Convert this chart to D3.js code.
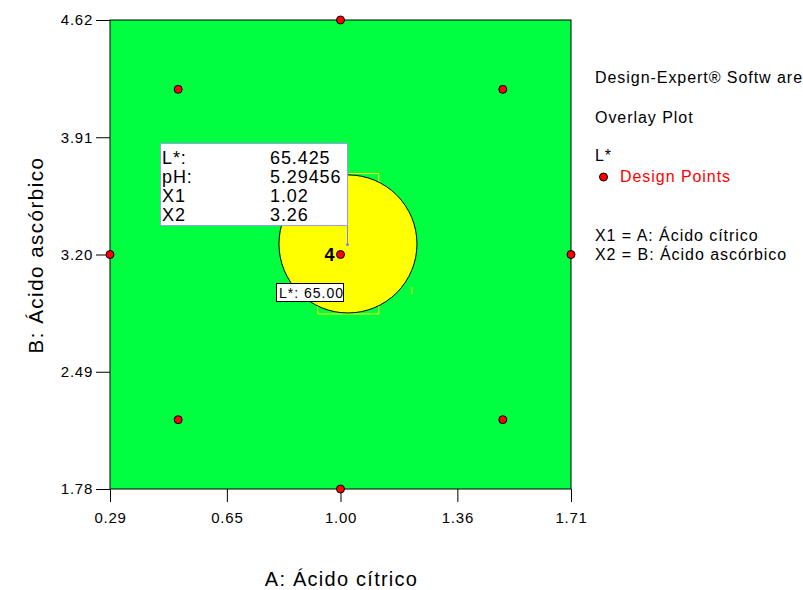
<!DOCTYPE html>
<html><head><meta charset="utf-8">
<script src="https://cdn.jsdelivr.net/npm/d3@7"></script>
<style>body{margin:0;background:#fff}svg{display:block;font-family:"Liberation Sans",Arial,sans-serif}</style>
</head><body><svg id="c" width="803" height="590"></svg>
<script>
const xTicks = [0.29, 0.65, 1.00, 1.36, 1.71];
const yTicks = [1.78, 2.49, 3.20, 3.91, 4.62];
const pointsX = [0.29, 1.71, 1.00, 1.00, 0.50, 1.50, 0.50, 1.50, 1.00];
const pointsY = [3.20, 3.20, 1.78, 4.62, 2.20, 2.20, 4.20, 4.20, 3.20];
const pointLabels = ["", "", "", "", "", "", "", "", "4"];
const regionCenter = [1.023, 3.264];
const regionRadius = [0.2125, 0.418];
const tipLabels = ["L*:", "pH:", "X1", "X2"];
const tipValues = ["65.425", "5.29456", "1.02", "3.26"];
const contourLabel = "L*: 65.00";
const legendLines = ["Design-Expert® Softw are", "Overlay Plot", "L*"];

const svg = d3.select("#c");
const x = d3.scaleLinear().domain([0.29, 1.71]).range([110, 571]);
const y = d3.scaleLinear().domain([1.78, 4.62]).range([489, 20]);

// background region
svg.append("rect").attr("x", x(0.29)).attr("y", y(4.62))
  .attr("width", x(1.71) - x(0.29)).attr("height", y(1.78) - y(4.62)).attr("fill", "#00ff40");

// faint yellow boundary artifacts
const yl = svg.append("g").attr("stroke", "#ffff00").attr("fill", "none").attr("stroke-width", 1);
yl.append("path").attr("d", `M${x(1.025)},${y(3.69)}H${x(1.118)}V${y(3.63)}`);
yl.append("path").attr("d", `M${x(0.93)},${y(2.97)}V${y(2.84)}H${x(1.118)}V${y(2.97)}`);
yl.append("path").attr("d", `M${x(1.22)},${y(3.0)}V${y(2.96)}`);

// yellow feasible region
svg.append("ellipse").attr("cx", x(regionCenter[0])).attr("cy", y(regionCenter[1]))
  .attr("rx", x(regionCenter[0] + regionRadius[0]) - x(regionCenter[0]))
  .attr("ry", y(regionCenter[1]) - y(regionCenter[1] + regionRadius[1]))
  .attr("fill", "#ffff00").attr("stroke", "#000").attr("stroke-width", 1);

// frame
svg.append("rect").attr("x", x(0.29)).attr("y", y(4.62))
  .attr("width", x(1.71) - x(0.29)).attr("height", y(1.78) - y(4.62))
  .attr("fill", "none").attr("stroke", "#000").attr("stroke-width", 1);

// axes
const xa = svg.append("g").attr("transform", `translate(0,${y(1.78)})`)
  .call(d3.axisBottom(x).tickValues(xTicks).tickFormat(d3.format(".2f")).tickSize(13).tickSizeOuter(0));
const ya = svg.append("g").attr("transform", `translate(${x(0.29)},0)`)
  .call(d3.axisLeft(y).tickValues(yTicks).tickFormat(d3.format(".2f")).tickSize(14).tickSizeOuter(0));
[xa, ya].forEach(a => {
  a.select(".domain").remove();
  a.selectAll("line").attr("stroke", "#000");
  a.selectAll("text").attr("font-size", 15).attr("fill", "#000").attr("letter-spacing", 0.75)
    .attr("font-family", '"Liberation Sans",Arial,sans-serif');
});
xa.selectAll("text").attr("dy", "1.2em");
ya.selectAll("text").attr("x", -17);

// axis titles
svg.append("text").attr("x", x(1.0) + 1).attr("y", 586).attr("text-anchor", "middle")
  .attr("font-size", 20).attr("letter-spacing", 1.25).text("A: Ácido cítrico");
svg.append("text").attr("transform", `translate(43,${255}) rotate(-90)`).attr("text-anchor", "middle")
  .attr("font-size", 20.5).attr("letter-spacing", 1.5).text("B: Ácido ascórbico");

// contour label box
const clx = 276, cly = 283;
svg.append("rect").attr("x", clx + 0.5).attr("y", cly + 0.5).attr("width", 67).attr("height", 18)
  .attr("fill", "#fff").attr("stroke", "#000").attr("stroke-width", 1);
svg.append("text").attr("x", clx + 3).attr("y", cly + 15).attr("font-size", 14)
  .attr("letter-spacing", 1).text(contourLabel);

// tooltip flag
const tipX = x(1.02) + 0.5, tipY = y(3.26);
svg.append("line").attr("x1", tipX).attr("x2", tipX).attr("y1", 225).attr("y2", tipY)
  .attr("stroke", "#8080ff").attr("stroke-width", 1);
svg.append("circle").attr("cx", tipX).attr("cy", tipY).attr("r", 1.5).attr("fill", "#8080ff");
svg.append("rect").attr("x", 160.5).attr("y", 143.5).attr("width", tipX - 160.5).attr("height", 82)
  .attr("fill", "#fff").attr("stroke", "#9a9aff").attr("stroke-width", 1);
tipLabels.forEach((t, i) => {
  svg.append("text").attr("x", 162).attr("y", 163.5 + i * 19.3).attr("font-size", 18)
    .attr("letter-spacing", 0.9).text(t);
  svg.append("text").attr("x", 270).attr("y", 163.5 + i * 19.3).attr("font-size", 18)
    .attr("letter-spacing", 0.9).text(tipValues[i]);
});

// design points
pointsX.forEach((px, i) => {
  svg.append("circle").attr("cx", x(px)).attr("cy", y(pointsY[i])).attr("r", 4)
    .attr("fill", "#ff0000").attr("stroke", "#000").attr("stroke-width", 1);
  if (pointLabels[i]) {
    svg.append("text").attr("x", x(px) - 6).attr("y", y(pointsY[i]) + 6)
      .attr("text-anchor", "end").attr("font-size", 18).attr("font-weight", "bold").text(pointLabels[i]);
  }
});

// legend / info text
const lg = svg.append("g").attr("font-size", 16).attr("fill", "#000").attr("letter-spacing", 0.95);
lg.append("text").attr("x", 595).attr("y", 83).text(legendLines[0]);
lg.append("text").attr("x", 595).attr("y", 123).text(legendLines[1]);
lg.append("text").attr("x", 595).attr("y", 161).text(legendLines[2]);
svg.append("circle").attr("cx", 603.5).attr("cy", 177).attr("r", 4).attr("fill", "#ff0000")
  .attr("stroke", "#000").attr("stroke-width", 1);
svg.append("text").attr("x", 620).attr("y", 182).attr("font-size", 16).attr("letter-spacing", 0.95)
  .attr("fill", "#ff0000").text("Design Points");
lg.append("text").attr("x", 595).attr("y", 241).text("X1 = A: Ácido cítrico");
lg.append("text").attr("x", 595).attr("y", 260).text("X2 = B: Ácido ascórbico");
</script></body></html>
